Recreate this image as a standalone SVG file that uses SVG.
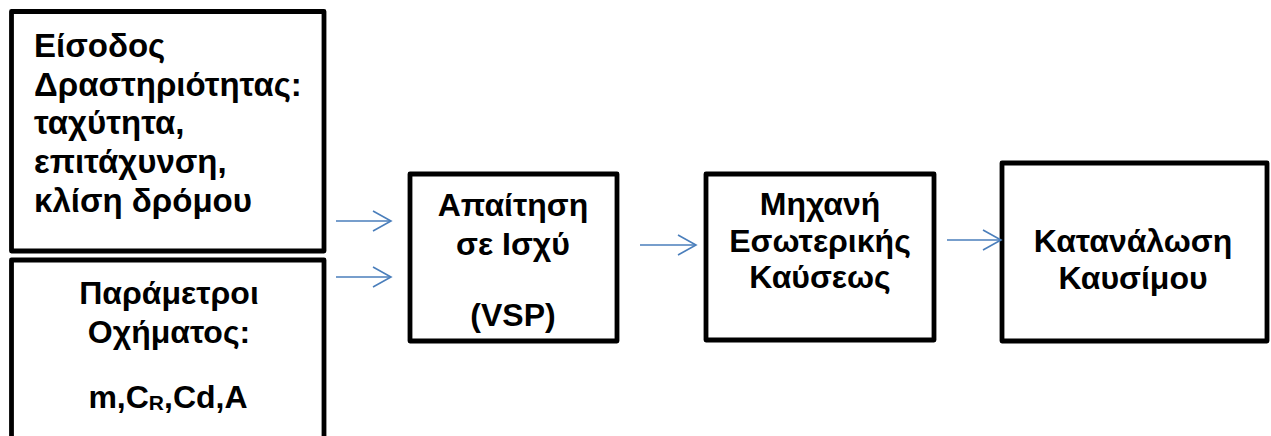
<svg xmlns="http://www.w3.org/2000/svg" width="1271" height="436" viewBox="0 0 1271 436">
  <style>
    .box { fill: #ffffff; stroke: #000000; stroke-width: 4.8; stroke-linejoin: round; }
    .lbl { font-family: "Liberation Sans", Arial, sans-serif; font-weight: bold; font-size: 32px; fill: #000000; }
    .wide { font-size: 33px; }
    .mid { text-anchor: middle; }
    .link { stroke: #4a7ebb; stroke-width: 1.6; fill: none; marker-end: url(#head); }
  </style>
  <defs>
    <marker id="head" markerUnits="userSpaceOnUse" markerWidth="24" markerHeight="24" viewBox="-20 -12 22 24" refX="0" refY="0" orient="auto">
      <path d="M-18,-10 L0,0 L-18,10" fill="none" stroke="#4a7ebb" stroke-width="1.6"/>
    </marker>
  </defs>
  <rect width="1271" height="436" fill="#ffffff"/>

  <g id="activity-input">
    <rect class="box" x="11.5" y="11.5" width="312.5" height="239.5"/>
    <text class="lbl wide" x="34" y="57">Είσοδος</text>
    <text class="lbl wide" x="34" y="96">Δραστηριότητας:</text>
    <text class="lbl wide" x="34" y="134">ταχύτητα,</text>
    <text class="lbl wide" x="34" y="173">επιτάχυνση,</text>
    <text class="lbl wide" x="34" y="212">κλίση δρόμου</text>
  </g>

  <g id="vehicle-params">
    <rect class="box" x="11.5" y="260" width="312.5" height="190"/>
    <text class="lbl mid" x="169" y="304">Παράμετροι</text>
    <text class="lbl mid" x="169" y="343">Οχήματος:</text>
    <text class="lbl mid" x="168" y="408">m,C<tspan font-size="21px" dy="2">R</tspan><tspan dy="-2">,Cd,A</tspan></text>
  </g>

  <g id="power-demand">
    <rect class="box" x="410" y="174" width="207" height="167"/>
    <text class="lbl mid" x="513" y="216">Απαίτηση</text>
    <text class="lbl mid" x="513" y="255">σε Ισχύ</text>
    <text class="lbl mid" x="513" y="326">(VSP)</text>
  </g>

  <g id="engine">
    <rect class="box" x="706" y="174" width="228" height="166"/>
    <text class="lbl mid" x="820" y="215">Μηχανή</text>
    <text class="lbl mid" x="820" y="252">Εσωτερικής</text>
    <text class="lbl mid" x="820" y="288">Καύσεως</text>
  </g>

  <g id="fuel-consumption">
    <rect class="box" x="1002" y="163" width="265" height="178"/>
    <text class="lbl mid" x="1133" y="252">Κατανάλωση</text>
    <text class="lbl mid" x="1133" y="289">Καυσίμου</text>
  </g>

  <g id="connectors">
    <line class="link" x1="336" y1="221" x2="391" y2="221"/>
    <line class="link" x1="336" y1="277" x2="391" y2="277"/>
    <line class="link" x1="640" y1="245" x2="696" y2="245"/>
    <line class="link" x1="947" y1="240" x2="1001" y2="240"/>
  </g>
</svg>
